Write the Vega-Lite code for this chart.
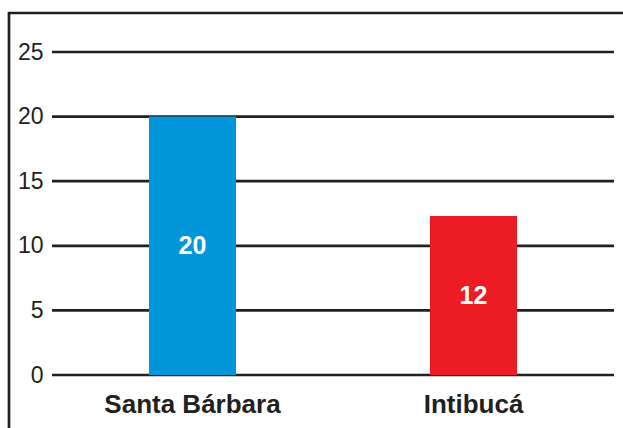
{
  "$schema": "https://vega.github.io/schema/vega-lite/v6.json",
  "autosize": "none",
  "padding": {"left": 9, "top": 13, "right": 0, "bottom": 0},
  "width": 640,
  "height": 430,
  "background": "white",
  "config": {
    "view": {"stroke": "#231f20", "strokeWidth": 2.7},
    "font": "Liberation Sans"
  },
  "data": {
    "values": [
      {"region": "Santa Bárbara", "value": 20, "label": "20"},
      {"region": "Intibucá", "value": 12.3, "label": "12"}
    ]
  },
  "resolve": {"scale": {"x": "independent"}},
  "layer": [
    {
      "data": {"values": [{"t": 0}, {"t": 5}, {"t": 10}, {"t": 15}, {"t": 20}, {"t": 25}]},
      "mark": {"type": "rule", "color": "#231f20", "strokeWidth": 2.7},
      "encoding": {
        "y": {"field": "t", "type": "quantitative", "scale": {"domain": [0, 25], "range": [362, 39], "nice": false, "zero": true},
          "axis": {"orient": "left", "offset": -43, "values": [0, 5, 10, 15, 20, 25], "ticks": false, "domain": false, "grid": false, "labelFontSize": 23, "labelColor": "#231f20", "labelPadding": 9, "labelBaseline": "middle", "title": null, "labelFont": "Liberation Sans"}},
        "x": {"datum": 0, "type": "quantitative", "scale": {"domain": [0, 1], "range": [43, 605], "nice": false, "zero": false}, "axis": null},
        "x2": {"datum": 1}
      }
    },
    {
      "layer": [
        {
          "mark": {"type": "bar", "width": 87},
          "encoding": {
            "x": {"field": "region", "type": "nominal", "sort": null, "scale": {"range": [43, 605], "paddingInner": 0, "paddingOuter": 0},
              "axis": {"orient": "bottom", "offset": -68, "ticks": false, "domain": false, "labelAngle": 0, "labelFontSize": 26, "labelFontWeight": "bold", "labelColor": "#231f20", "labelBaseline": "alphabetic", "labelPadding": 37, "title": null, "labelFont": "Liberation Sans"}},
            "y": {"field": "value", "type": "quantitative"},
            "color": {"field": "region", "type": "nominal", "scale": {"domain": ["Santa Bárbara", "Intibucá"], "range": ["#0096d9", "#ed1c24"]}, "legend": null}
          }
        },
        {
          "transform": [{"calculate": "datum.value / 2", "as": "mid"}],
          "mark": {"type": "text", "color": "white", "fontSize": 25, "fontWeight": "bold", "baseline": "middle", "font": "Liberation Sans"},
          "encoding": {
            "x": {"field": "region", "type": "nominal", "sort": null},
            "y": {"field": "mid", "type": "quantitative"},
            "text": {"field": "label"}
          }
        }
      ]
    }
  ]
}
